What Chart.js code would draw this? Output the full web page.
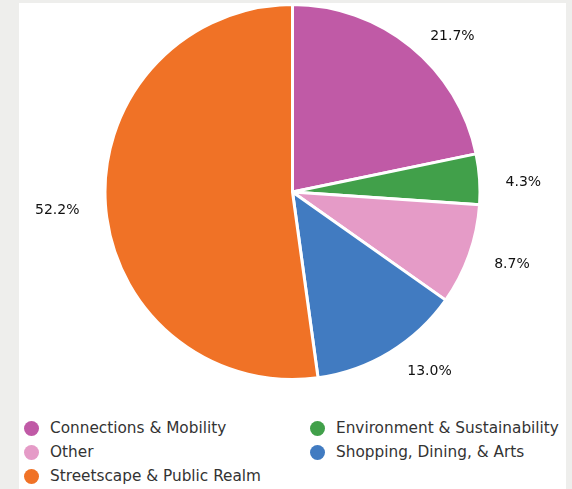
<!DOCTYPE html>
<html>
<head>
<meta charset="utf-8">
<script src="https://cdn.jsdelivr.net/npm/chart.js@4.4.1/dist/chart.umd.min.js"></script>
<style>
  html, body { margin: 0; padding: 0; background: #eeeeec; }
  body { width: 572px; height: 489px; overflow: hidden; position: relative; font-family: "DejaVu Sans", sans-serif; }
  #panel { position: absolute; left: 19px; top: 3px; width: 547px; height: 486px; background: #fff; }
  #wrap { position: relative; width: 547px; height: 380px; }
  #leyenda { margin-top: 33px; display: grid; grid-template-columns: 286px 260px; row-gap: 0; }
  .item { display: flex; align-items: center; height: 24px; color: #333; font-size: 15.3px; white-space: nowrap; }
  .item span.punto { display: inline-block; width: 15px; height: 15px; border-radius: 50%; margin-left: 5px; margin-right: 11px; flex: none; }
</style>
</head>
<body>
<div id="panel">
  <div id="wrap"><canvas id="graficoTemas"></canvas></div>
  <div id="leyenda"></div>
</div>
<script>
'use strict';

// Categorias y respuestas por tema
const CATEGORIAS = [
    'Connections & Mobility',
    'Environment & Sustainability',
    'Other',
    'Shopping, Dining, & Arts',
    'Streetscape & Public Realm'
];

const RESPUESTAS = [5, 1, 2, 3, 12];

const COLORES = ['#c05aa6', '#41a04a', '#e59bc7', '#417bc1', '#f07226'];

// Etiquetas de porcentaje fuera de cada porcion
const etiquetasPorcentaje = {
    id: 'etiquetasPorcentaje',
    afterDatasetsDraw(chart) {
        const ctx = chart.ctx;
        const meta = chart.getDatasetMeta(0);
        const datos = chart.data.datasets[0].data;
        const total = datos.reduce((a, b) => a + b, 0);
        ctx.save();
        ctx.font = '14px "DejaVu Sans", sans-serif';
        ctx.fillStyle = '#111';
        ctx.textBaseline = 'middle';
        meta.data.forEach((arco, i) => {
            const p = arco.getProps(['x', 'y', 'startAngle', 'endAngle', 'outerRadius'], true);
            const medio = (p.startAngle + p.endAngle) / 2;
            const r = p.outerRadius + 18;
            const cx = Math.cos(medio);
            let x = p.x + cx * r;
            const y = p.y + Math.sin(medio) * r + 4;
            if (cx >= 0) {
                ctx.textAlign = 'left';
                x += 8;
            } else {
                ctx.textAlign = 'right';
                x -= 8;
            }
            ctx.fillText((datos[i] / total * 100).toFixed(1) + '%', x, y);
        });
        ctx.restore();
    }
};

function crearGrafico() {
    const canvas = document.getElementById('graficoTemas');

    const grafico = new Chart(canvas, {
        type: 'pie',
        data: {
            labels: CATEGORIAS,
            datasets: [{
                data: RESPUESTAS,
                backgroundColor: COLORES,
                borderColor: '#ffffff',
                borderWidth: 3
            }]
        },
        options: {
            responsive: true,
            maintainAspectRatio: false,
            animation: false,
            layout: { padding: { top: 0, bottom: 2 } },
            plugins: {
                legend: { display: false },
                tooltip: { enabled: false }
            }
        },
        plugins: [etiquetasPorcentaje]
    });

    // Leyenda HTML en dos columnas
    const leyenda = document.getElementById('leyenda');
    grafico.data.labels.forEach((nombre, i) => {
        const item = document.createElement('div');
        item.className = 'item';
        const punto = document.createElement('span');
        punto.className = 'punto';
        punto.style.background = COLORES[i];
        item.appendChild(punto);
        item.appendChild(document.createTextNode(nombre));
        leyenda.appendChild(item);
    });
}

crearGrafico();
</script>
</body>
</html>
